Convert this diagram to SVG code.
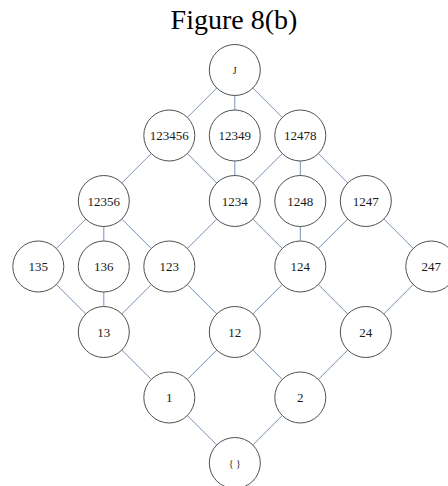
<svg xmlns="http://www.w3.org/2000/svg" width="448" height="486" viewBox="0 0 448 486">
<style>
.n circle{fill:#fff;stroke:#505050;stroke-width:1}
.n text{font-family:"Liberation Serif",serif;font-size:13px;fill:#1a1a1a;text-anchor:middle;dominant-baseline:central}
.n text.s{font-size:10px}
#edges line{stroke:#7a93b8;stroke-width:1}
.title{font-family:"Liberation Serif",serif;font-size:28px;fill:#000;text-anchor:middle}
</style>
<rect width="448" height="486" fill="#fff"/>
<text class="title" x="234" y="29">Figure 8(b)</text>
<g id="edges">
<line x1="234.8" y1="70" x2="169.3" y2="135.5"/>
<line x1="234.8" y1="70" x2="234.8" y2="135.5"/>
<line x1="234.8" y1="70" x2="300.3" y2="135.5"/>
<line x1="169.3" y1="135.5" x2="103.8" y2="201"/>
<line x1="169.3" y1="135.5" x2="234.8" y2="201"/>
<line x1="234.8" y1="135.5" x2="234.8" y2="201"/>
<line x1="300.3" y1="135.5" x2="234.8" y2="201"/>
<line x1="300.3" y1="135.5" x2="300.3" y2="201"/>
<line x1="300.3" y1="135.5" x2="365.8" y2="201"/>
<line x1="103.8" y1="201" x2="38.3" y2="266.5"/>
<line x1="103.8" y1="201" x2="103.8" y2="266.5"/>
<line x1="103.8" y1="201" x2="169.3" y2="266.5"/>
<line x1="234.8" y1="201" x2="169.3" y2="266.5"/>
<line x1="234.8" y1="201" x2="300.3" y2="266.5"/>
<line x1="300.3" y1="201" x2="300.3" y2="266.5"/>
<line x1="365.8" y1="201" x2="300.3" y2="266.5"/>
<line x1="365.8" y1="201" x2="431.3" y2="266.5"/>
<line x1="38.3" y1="266.5" x2="103.8" y2="332"/>
<line x1="103.8" y1="266.5" x2="103.8" y2="332"/>
<line x1="169.3" y1="266.5" x2="103.8" y2="332"/>
<line x1="169.3" y1="266.5" x2="234.8" y2="332"/>
<line x1="300.3" y1="266.5" x2="234.8" y2="332"/>
<line x1="300.3" y1="266.5" x2="365.8" y2="332"/>
<line x1="431.3" y1="266.5" x2="365.8" y2="332"/>
<line x1="103.8" y1="332" x2="169.3" y2="397.5"/>
<line x1="234.8" y1="332" x2="169.3" y2="397.5"/>
<line x1="234.8" y1="332" x2="300.3" y2="397.5"/>
<line x1="365.8" y1="332" x2="300.3" y2="397.5"/>
<line x1="169.3" y1="397.5" x2="234.8" y2="463"/>
<line x1="300.3" y1="397.5" x2="234.8" y2="463"/>
</g>
<g id="nJ" class="n"><circle cx="234.8" cy="70" r="25.5"/><text class="s" x="234.8" y="70">J</text></g>
<g id="n123456" class="n"><circle cx="169.3" cy="135.5" r="25.5"/><text x="169.3" y="135.5">123456</text></g>
<g id="n12349" class="n"><circle cx="234.8" cy="135.5" r="25.5"/><text x="234.8" y="135.5">12349</text></g>
<g id="n12478" class="n"><circle cx="300.3" cy="135.5" r="25.5"/><text x="300.3" y="135.5">12478</text></g>
<g id="n12356" class="n"><circle cx="103.8" cy="201" r="25.5"/><text x="103.8" y="201">12356</text></g>
<g id="n1234" class="n"><circle cx="234.8" cy="201" r="25.5"/><text x="234.8" y="201">1234</text></g>
<g id="n1248" class="n"><circle cx="300.3" cy="201" r="25.5"/><text x="300.3" y="201">1248</text></g>
<g id="n1247" class="n"><circle cx="365.8" cy="201" r="25.5"/><text x="365.8" y="201">1247</text></g>
<g id="n135" class="n"><circle cx="38.3" cy="266.5" r="25.5"/><text x="38.3" y="266.5">135</text></g>
<g id="n136" class="n"><circle cx="103.8" cy="266.5" r="25.5"/><text x="103.8" y="266.5">136</text></g>
<g id="n123" class="n"><circle cx="169.3" cy="266.5" r="25.5"/><text x="169.3" y="266.5">123</text></g>
<g id="n124" class="n"><circle cx="300.3" cy="266.5" r="25.5"/><text x="300.3" y="266.5">124</text></g>
<g id="n247" class="n"><circle cx="431.3" cy="266.5" r="25.5"/><text x="431.3" y="266.5">247</text></g>
<g id="n13" class="n"><circle cx="103.8" cy="332" r="25.5"/><text x="103.8" y="332">13</text></g>
<g id="n12" class="n"><circle cx="234.8" cy="332" r="25.5"/><text x="234.8" y="332">12</text></g>
<g id="n24" class="n"><circle cx="365.8" cy="332" r="25.5"/><text x="365.8" y="332">24</text></g>
<g id="n1" class="n"><circle cx="169.3" cy="397.5" r="25.5"/><text x="169.3" y="397.5">1</text></g>
<g id="n2" class="n"><circle cx="300.3" cy="397.5" r="25.5"/><text x="300.3" y="397.5">2</text></g>
<g id="nEmpty" class="n"><circle cx="234.8" cy="463" r="25.5"/><text class="s" x="234.8" y="463">{ }</text></g>
</svg>
